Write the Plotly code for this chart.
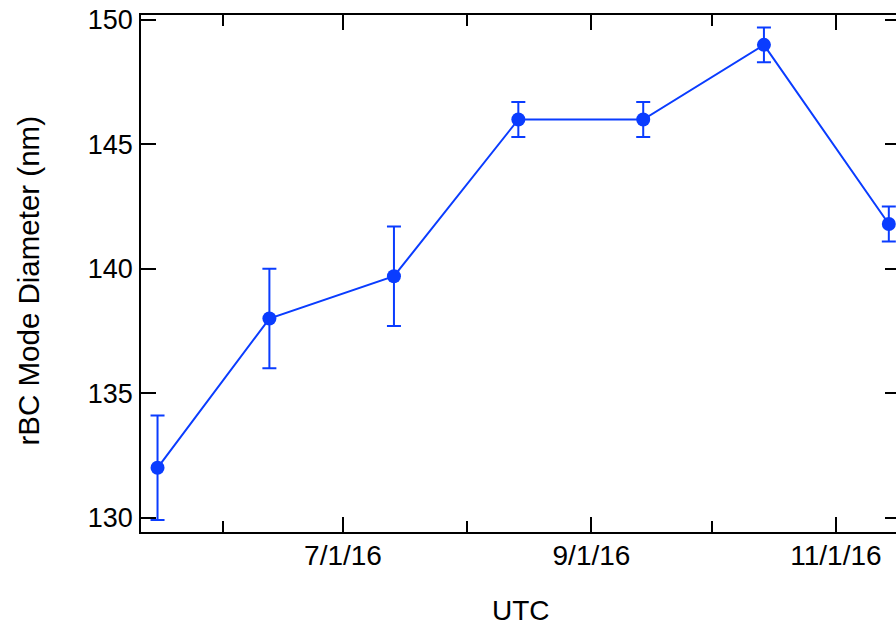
import plotly.graph_objects as go

# Monthly rBC mode diameter with uncertainty
dates = [
    "2016-05-15 17:00",
    "2016-06-12 15:00",
    "2016-07-13 17:00",
    "2016-08-13 18:00",
    "2016-09-13 22:00",
    "2016-10-14 01:00",
    "2016-11-14 05:00",
]
diameter_nm = [132.0, 138.0, 139.7, 146.0, 146.0, 149.0, 141.8]
diameter_err = [2.1, 2.0, 2.0, 0.7, 0.7, 0.7, 0.7]

x_range = ["2016-05-11 14:00", "2016-11-16 00:00"]
y_range = [129.42, 150.2]

BLUE = "#0a3cff"
FONT = "Liberation Sans, Arial, Helvetica, sans-serif"

fig = go.Figure()
fig.add_trace(go.Scatter(
    x=dates, y=diameter_nm,
    mode="lines+markers",
    line=dict(color=BLUE, width=2),
    marker=dict(color=BLUE, size=14),
    error_y=dict(type="data", array=diameter_err, color=BLUE,
                 thickness=2, width=7),
    cliponaxis=False,
    showlegend=False,
))
# right-hand tick marks (no axis line on that side)
fig.add_trace(go.Scatter(
    x=dates, y=diameter_nm, yaxis="y2", mode="none",
    showlegend=False, hoverinfo="skip",
))

fig.update_layout(
    width=896, height=627,
    margin=dict(l=141, r=0, t=15, b=95),
    paper_bgcolor="white", plot_bgcolor="white",
    font=dict(family=FONT, size=28, color="black"),
    xaxis=dict(
        type="date", range=x_range,
        showgrid=False, zeroline=False,
        showline=True, linecolor="black", linewidth=1.5,
        mirror="ticks",
        ticks="inside", ticklen=15, tickwidth=1.5, tickcolor="black",
        tick0="2016-07-01", dtick="M2", tickformat="%-m/%-d/%y",
        minor=dict(ticks="inside", ticklen=11, tickwidth=1.5,
                   tickcolor="black", dtick="M1", tick0="2016-06-01",
                   showgrid=False),
        tickfont=dict(size=28),
        ticklabelstandoff=-2,
    ),
    yaxis=dict(
        range=y_range, showgrid=False, zeroline=False,
        showline=True, linecolor="black", linewidth=1.5,
        ticks="inside", ticklen=15, tickwidth=1.5, tickcolor="black",
        tick0=130, dtick=5,
        tickfont=dict(size=27),
        ticklabelstandoff=1,
    ),
    yaxis2=dict(
        overlaying="y", side="right", matches="y",
        showgrid=False, zeroline=False, showline=False,
        ticks="inside", ticklen=11, tickwidth=1.5, tickcolor="black",
        tick0=130, dtick=5, showticklabels=False,
    ),
    annotations=[
        dict(text="rBC Mode Diameter (nm)", textangle=-90,
             xref="paper", yref="paper",
             x=(28 - 141) / 755, y=(532 - 281.5) / 517,
             xanchor="center", yanchor="middle", showarrow=False,
             font=dict(size=29.5)),
        dict(text="UTC", xref="paper", yref="paper",
             x=(521 - 141) / 755, y=-(627 - 532) / 517,
             xanchor="center", yanchor="bottom", showarrow=False,
             borderpad=0, font=dict(size=28)),
    ],
)

fig.write_html("out.html")
